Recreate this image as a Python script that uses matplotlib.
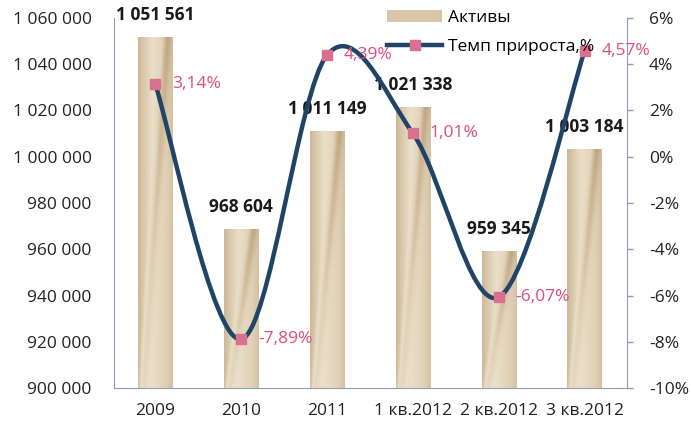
import matplotlib.pyplot as plt
import numpy as np
from matplotlib.path import Path
from matplotlib.patches import PathPatch, Patch
from matplotlib.lines import Line2D
from matplotlib.colors import LinearSegmentedColormap

plt.rcParams['font.family'] = ['Open Sans', 'DejaVu Sans']

categories = ['2009', '2010', '2011', '1 кв.2012', '2 кв.2012', '3 кв.2012']
assets = [1051561, 968604, 1011149, 1021338, 959345, 1003184]
growth = [3.14, -7.89, 4.39, 1.01, -6.07, 4.57]
left_ticks = list(range(900000, 1060001, 20000))
right_ticks = list(range(-10, 7, 2))


def fmt_num(v):
    return f'{v:,}'.replace(',', ' ')


def fmt_pct(v):
    return f'{v:.2f}%'.replace('.', ',')


fig = plt.figure(figsize=(6.91, 4.26), dpi=100)
ax = fig.add_axes([0.165, 0.089, 0.742, 0.869])
ax2 = ax.twinx()

spine_col = '#8e9dbb'
x = np.arange(len(categories))
w = 0.4

# bars with a cylinder-like shading
cyl = LinearSegmentedColormap.from_list('cyl', ['#cdb999', '#ebdfc9', '#e0d0b5', '#c7b08e', '#9a8263'])
bars = ax.bar(x, assets, width=w, color='#dac7a9', zorder=2)
u = np.linspace(0, 1, 60)
v = np.linspace(0, 1, 200)
U, V = np.meshgrid(u, v)
shade = 0.55 * U + 0.25 * np.exp(-((U - (0.15 + 0.7 * V)) / 0.12) ** 2)
for b in bars:
    x0 = b.get_x()
    im = ax.imshow(shade, cmap=cyl, aspect='auto', origin='lower', vmin=0, vmax=0.9,
                   extent=(x0, x0 + b.get_width(), 900000, b.get_height()), zorder=2)
    im.set_clip_path(b)

for xi, val in zip(x, assets):
    ax.annotate(fmt_num(val), (xi, val), xytext=(0, 16), textcoords='offset points',
                ha='center', va='center', fontsize=12.5, fontweight='bold', color='#1a1a1a', zorder=3)

ax.set_xlim(-0.48, 5.49)
ax.set_ylim(900000, 1060000)
ax.set_yticks(left_ticks)
ax.set_yticklabels([fmt_num(t) for t in left_ticks])
ax.set_xticks(x)
ax.set_xticklabels(categories)
ax.tick_params(axis='y', length=0, pad=16, labelsize=12.5, colors='#222222')
ax.tick_params(axis='x', length=0, pad=11, labelsize=12.5, colors='#222222')

# smoothed growth line (Catmull-Rom style Bezier through the points)
pts = np.column_stack([x, growth]).astype(float)
ext = np.vstack([pts[0], pts, pts[-1]])
verts = [tuple(pts[0])]
codes = [Path.MOVETO]
for i in range(len(pts) - 1):
    p0, p1, p2, p3 = ext[i], ext[i + 1], ext[i + 2], ext[i + 3]
    c1 = p1 + (p2 - p0) / 6
    c2 = p2 - (p3 - p1) / 6
    verts += [tuple(c1), tuple(c2), tuple(p2)]
    codes += [Path.CURVE4] * 3
ax2.add_patch(PathPatch(Path(verts, codes), facecolor='none', edgecolor='#1f4468',
                        lw=3.2, capstyle='round', zorder=4))
ax2.plot(x, growth, ls='none', marker='s', ms=7.5, mfc='#d9708f', mec='#d9708f', zorder=5)
for xi, val in zip(x, growth):
    ax2.annotate(fmt_pct(val), (xi, val), xytext=(12, 0), textcoords='offset points',
                 ha='left', va='center', fontsize=12.5, color='#de4c7e', zorder=6)

ax2.set_ylim(-10, 6)
ax2.set_yticks(right_ticks)
ax2.set_yticklabels([f'{t}%' for t in right_ticks])
ax2.tick_params(axis='y', length=4, width=1, color=spine_col, pad=12, labelsize=12.5, labelcolor='#222222')

for a in (ax, ax2):
    a.spines['top'].set_visible(False)
    for s in ('left', 'right', 'bottom'):
        a.spines[s].set_color(spine_col)
ax.spines['right'].set_visible(False)
ax2.spines['left'].set_visible(False)
ax2.spines['bottom'].set_visible(False)

handles = [Patch(facecolor='#d8c6a8', edgecolor='none'),
           Line2D([0], [0], color='#1f4468', lw=3.2, marker='s', ms=7.5, mfc='#d9708f', mec='#d9708f')]
ax2.legend(handles, ['Активы', 'Темп прироста,%'], loc='upper left', bbox_to_anchor=(0.515, 1.045),
           frameon=False, fontsize=12.5, handlelength=3.2, handletextpad=0.3, labelspacing=0.75,
           borderpad=0)

fig.savefig('out.png', dpi=100)
